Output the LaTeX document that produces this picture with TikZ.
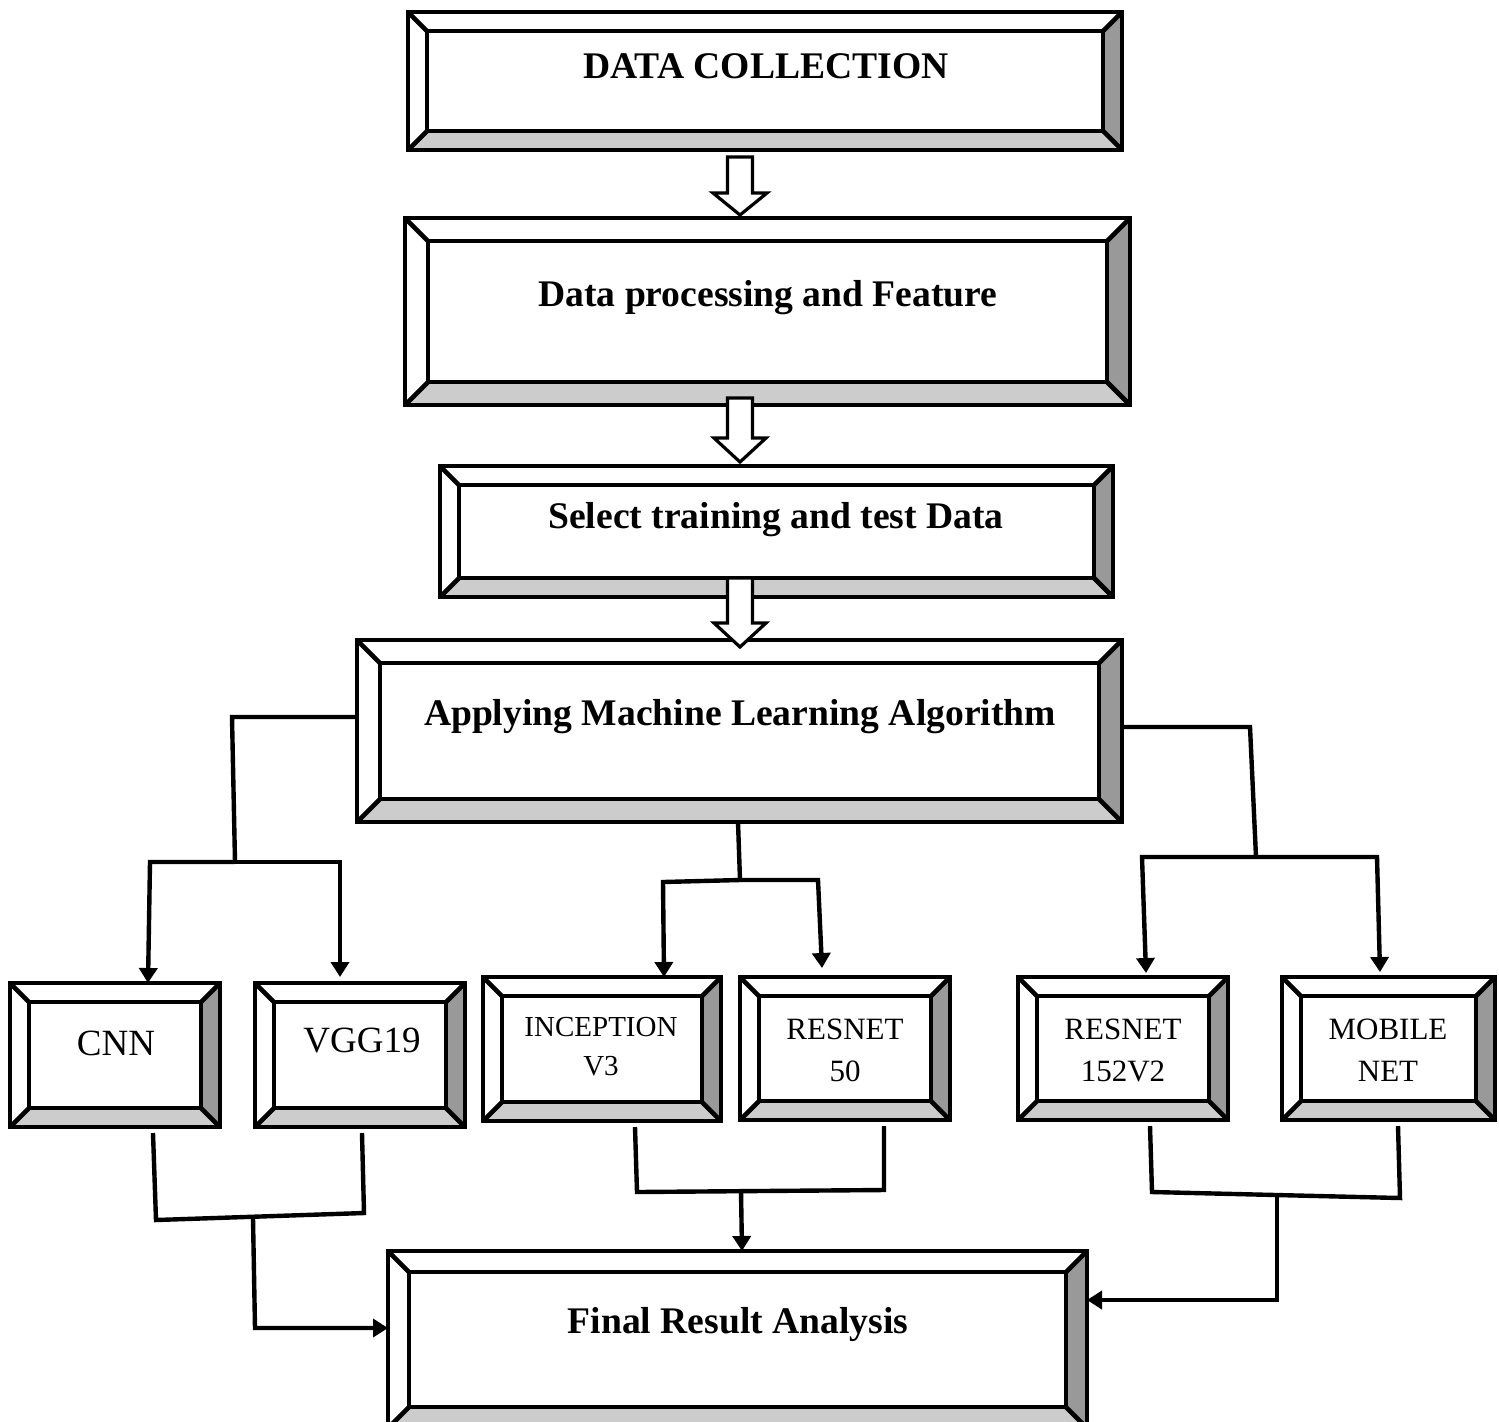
\documentclass[tikz,border=0pt]{standalone}
\usepackage{fontspec}
\setmainfont{Liberation Serif}
\usetikzlibrary{fit,calc,arrows.meta}
\definecolor{bevdark}{HTML}{999999}
\definecolor{bevlight}{HTML}{CCCCCC}
\newcommand\bevelbox[4]{%
  \node[fit={#2 #3}, inner sep=0pt, outer sep=0pt] (#1) {};
  \fill[white] (#1.south west) rectangle (#1.north east);
  \fill[bevdark] (#1.north east) -- (#1.south east) -- ([shift={(-#4,-#4)}]#1.south east) -- ([shift={(-#4,#4)}]#1.north east) -- cycle;
  \fill[bevlight] (#1.south west) -- (#1.south east) -- ([shift={(-#4,-#4)}]#1.south east) -- ([shift={(#4,-#4)}]#1.south west) -- cycle;
  \draw[boxline] (#1.south west) rectangle (#1.north east);
  \draw[boxline] ([shift={(#4,#4)}]#1.north west) rectangle ([shift={(-#4,-#4)}]#1.south east);
  \draw[boxline] (#1.north west) -- ([shift={(#4,#4)}]#1.north west);
  \draw[boxline] (#1.north east) -- ([shift={(-#4,#4)}]#1.north east);
  \draw[boxline] (#1.south east) -- ([shift={(-#4,-#4)}]#1.south east);
  \draw[boxline] (#1.south west) -- ([shift={(#4,-#4)}]#1.south west);
}
\begin{document}
\begin{tikzpicture}[x=0.5pt,y=-0.5pt,
  boxline/.style={line width=2.3pt, line join=miter},
  title/.style={font=\fontsize{18.8}{22}\selectfont\bfseries},
  bigtxt/.style={font=\fontsize{18.5}{21}\selectfont, align=center},
  midtxt/.style={font=\fontsize{15.5}{21}\selectfont, align=center},
  smalltxt/.style={font=\fontsize{14.5}{19.5}\selectfont, align=center},
  conn/.style={line width=2.2pt},
  arr/.style={line width=2.2pt, -{Triangle[length=7.5pt,width=9pt]}},
  blockarr/.style={line width=1.6pt, fill=white, line join=miter}]
\fill[white] (0,0) rectangle (1499,1421);
\useasboundingbox (0,0) rectangle (1499,1421);

% boxes
\bevelbox{dc}{(408,12)}{(1122,150)}{19}
\bevelbox{dp}{(405,218)}{(1130,405)}{23}
\bevelbox{sel}{(440,466)}{(1113,597)}{19}
\bevelbox{ml}{(357,640)}{(1122,822)}{23}
\bevelbox{cnn}{(10,983)}{(220,1127)}{19}
\bevelbox{vgg}{(255,983)}{(465,1127)}{19}
\bevelbox{inc}{(483,977)}{(721,1121)}{19}
\bevelbox{rfifty}{(740,977)}{(950,1120)}{19}
\bevelbox{rone}{(1018,977)}{(1228,1120)}{19}
\bevelbox{mob}{(1282,977)}{(1495,1120)}{19}
\bevelbox{fin}{(388,1251)}{(1087,1428)}{21}

% texts
\node[title] (dc-t) at (766,66) {DATA COLLECTION};
\node[title] (dp-t) at (768,298) {Data processing and Feature};
\node[title] (sel-t) at (776,520) {Select training and test Data};
\node[title] (ml-t) at (740,717) {Applying Machine Learning Algorithm};
\node[title] (fin-t) at (738,1324) {Final Result Analysis};
\node[bigtxt] (cnn-t) at (116,1043) {CNN};
\node[bigtxt] (vgg-t) at (362,1041) {VGG19};
\node[smalltxt] (inc-t) at (601,1047) {INCEPTION\\V3};
\node[midtxt] (rfifty-t) at (845,1050) {RESNET\\50};
\node[midtxt] (rone-t) at (1123,1050) {RESNET\\152V2};
\node[midtxt] (mob-t) at (1388,1050) {MOBILE\\NET};

% hollow block arrows
\draw[blockarr] (727.5,157) -- (752.5,157) -- (752.5,193) -- (767,193) -- (740,215) -- (713,193) -- (727.5,193) -- cycle;
\draw[blockarr] (727.5,398) -- (752.5,398) -- (752.5,438) -- (766,438) -- (740,462) -- (714,438) -- (727.5,438) -- cycle;
\draw[blockarr] (727.5,578) -- (752.5,578) -- (752.5,623) -- (766,623) -- (740,647) -- (714,623) -- (727.5,623) -- cycle;

% branch connectors
\coordinate (jl) at (235,862);
\coordinate (jm) at (740,880);
\coordinate (jr) at (1256,857);
\draw[conn] (ml.west |- 0,717) -- (232,717) -- (jl);
\draw[arr] (jl) -- (150,862) -- (148,0 |- cnn.north);
\draw[arr] (jl) -- (340,862) -- (340,977);
\draw[conn] (738,0 |- ml.south) -- (jm);
\draw[arr] (jm) -- (663,882) -- (664,0 |- inc.north);
\draw[arr] (jm) -- (818,880) -- (822,968);
\draw[conn] (ml.east |- 0,727) -- (1250,727) -- (jr);
\draw[arr] (jr) -- (1142,857) -- (1146,973);
\draw[arr] (jr) -- (1377,857) -- (1380,972);

% merge connectors
\coordinate (kl) at (253,1218);
\coordinate (km) at (741,1191);
\coordinate (kr) at (1277,1195);
\draw[conn] ([yshift=-3pt]153,0 |- cnn.south) -- (156,1220) -- (364,1213) -- ([yshift=-3pt]362,0 |- vgg.south);
\draw[arr] (kl) -- (255,1328) -- (fin.west |- 0,1328);
\draw[conn] ([yshift=-3pt]635,0 |- inc.south) -- (637,1192) -- (884,1190) -- ([yshift=-3pt]884,0 |- rfifty.south);
\draw[arr] (km) -- (742,0 |- fin.north);
\draw[conn] ([yshift=-3pt]1150,0 |- rone.south) -- (1152,1192) -- (1400,1198) -- ([yshift=-3pt]1398,0 |- mob.south);
\draw[arr] (kr) -- (1277,1300) -- (fin.east |- 0,1300);
\end{tikzpicture}
\end{document}
